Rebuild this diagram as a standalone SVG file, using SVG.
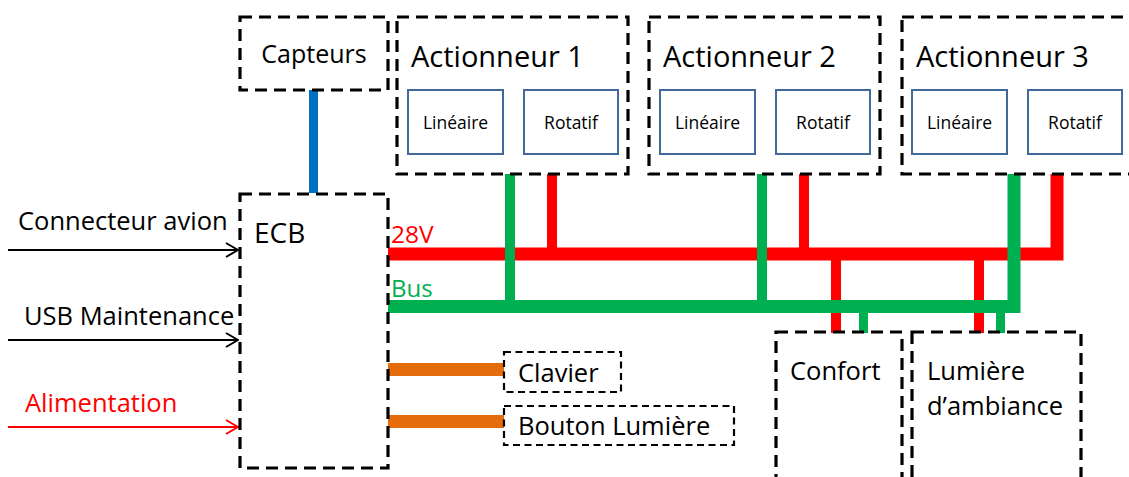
<svg xmlns="http://www.w3.org/2000/svg" width="1129" height="477" viewBox="0 0 1129 477">
<style>
text{font-family:"Open Sans","Noto Sans","Liberation Sans",sans-serif;fill:#000}
.dash{fill:none;stroke:#000;stroke-width:3.2;stroke-dasharray:12 7}
.dashs{fill:none;stroke:#000;stroke-width:2.2;stroke-dasharray:7 4.5}
.sub{fill:#fff;stroke:#41699C;stroke-width:2}
.big{font-size:29px}
.mid{font-size:25.5px}
.small{font-size:17.5px}
.red{stroke:#FF0000}
.green{stroke:#00B050}
</style>
<defs>
<marker id="arrb" markerWidth="14" markerHeight="16" refX="13" refY="8" orient="auto" markerUnits="userSpaceOnUse">
<path d="M1,1 L13,8 L1,15" fill="none" stroke="#000" stroke-width="2"/>
</marker>
<marker id="arrr" markerWidth="14" markerHeight="16" refX="13" refY="8" orient="auto" markerUnits="userSpaceOnUse">
<path d="M1,1 L13,8 L1,15" fill="none" stroke="#FF0000" stroke-width="2"/>
</marker>
</defs>

<g id="connectors">
<line x1="313.5" y1="90" x2="313.5" y2="193" stroke="#0070C0" stroke-width="9"/>
<line x1="8" y1="250" x2="238" y2="250" stroke="#000" stroke-width="2" marker-end="url(#arrb)"/>
<line x1="8" y1="340" x2="238" y2="340" stroke="#000" stroke-width="2" marker-end="url(#arrb)"/>
<line x1="8" y1="427" x2="238" y2="427" stroke="#FF0000" stroke-width="2" marker-end="url(#arrr)"/>
<!-- 28V bus -->
<path class="red" d="M388,254 H1057 V174" fill="none" stroke-width="13"/>
<path class="red" d="M552,174 V254 M804,174 V254" fill="none" stroke-width="10"/>
<path class="red" d="M836,254 V333 M979,254 V333" fill="none" stroke-width="10"/>
<!-- data bus -->
<path class="green" d="M388,306.5 H1014 V174" fill="none" stroke-width="13"/>
<path class="green" d="M510,174 V306 M762,174 V306" fill="none" stroke-width="10"/>
<path class="green" d="M863.5,306 V333 M1000.5,306 V333" fill="none" stroke-width="9"/>
<!-- orange -->
<line x1="388" y1="369.5" x2="504" y2="369.5" stroke="#E46C0A" stroke-width="13"/>
<line x1="388" y1="421.5" x2="504" y2="421.5" stroke="#E46C0A" stroke-width="13"/>
<text x="391" y="243" style="font-size:24.5px;fill:#FF0000">28V</text>
<text x="391" y="297" style="font-size:24px;fill:#00B050">Bus</text>
</g>

<g id="inputs">
<text x="18" y="230" class="mid">Connecteur avion</text>
<text x="24" y="325" class="mid">USB Maintenance</text>
<text x="25" y="412" class="mid" style="fill:#FF0000">Alimentation</text>
</g>

<g id="capteurs">
<rect x="240" y="17" width="148" height="73" class="dash"/>
<text x="314" y="63" style="font-size:25px" text-anchor="middle">Capteurs</text>
</g>

<g id="ecb">
<rect x="240" y="194" width="148" height="274" class="dash"/>
<text x="254" y="243" style="font-size:28px">ECB</text>
</g>

<g id="actionneur1">
<rect x="397" y="17" width="231" height="157" class="dash"/>
<text x="411" y="67" class="big">Actionneur 1</text>
<rect x="408" y="90" width="95" height="64" class="sub"/>
<text x="455.5" y="129" class="small" text-anchor="middle">Linéaire</text>
<rect x="524" y="90" width="94" height="64" class="sub"/>
<text x="571" y="129" class="small" text-anchor="middle">Rotatif</text>
</g>

<g id="actionneur2">
<rect x="649" y="17" width="231" height="157" class="dash"/>
<text x="663" y="67" class="big">Actionneur 2</text>
<rect x="660" y="90" width="95" height="64" class="sub"/>
<text x="707.5" y="129" class="small" text-anchor="middle">Linéaire</text>
<rect x="776" y="90" width="94" height="64" class="sub"/>
<text x="823" y="129" class="small" text-anchor="middle">Rotatif</text>
</g>

<g id="actionneur3">
<rect x="902" y="17" width="240" height="157" class="dash"/>
<text x="916" y="67" class="big">Actionneur 3</text>
<rect x="912" y="90" width="95" height="64" class="sub"/>
<text x="959.5" y="129" class="small" text-anchor="middle">Linéaire</text>
<rect x="1028" y="90" width="94" height="64" class="sub"/>
<text x="1075" y="129" class="small" text-anchor="middle">Rotatif</text>
</g>

<g id="clavier">
<rect x="504" y="352" width="117" height="40" class="dashs"/>
<text x="518" y="382" class="mid">Clavier</text>
</g>

<g id="bouton">
<rect x="504" y="406" width="230" height="39" class="dashs"/>
<text x="518" y="435" class="mid">Bouton Lumière</text>
</g>

<g id="confort">
<rect x="776" y="332" width="126" height="160" class="dash"/>
<text x="790" y="380" class="mid">Confort</text>
</g>

<g id="lumiere">
<rect x="912" y="332" width="169" height="160" class="dash"/>
<text x="927" y="380" class="mid">Lumière</text>
<text x="927" y="415" class="mid">d’ambiance</text>
</g>
</svg>
